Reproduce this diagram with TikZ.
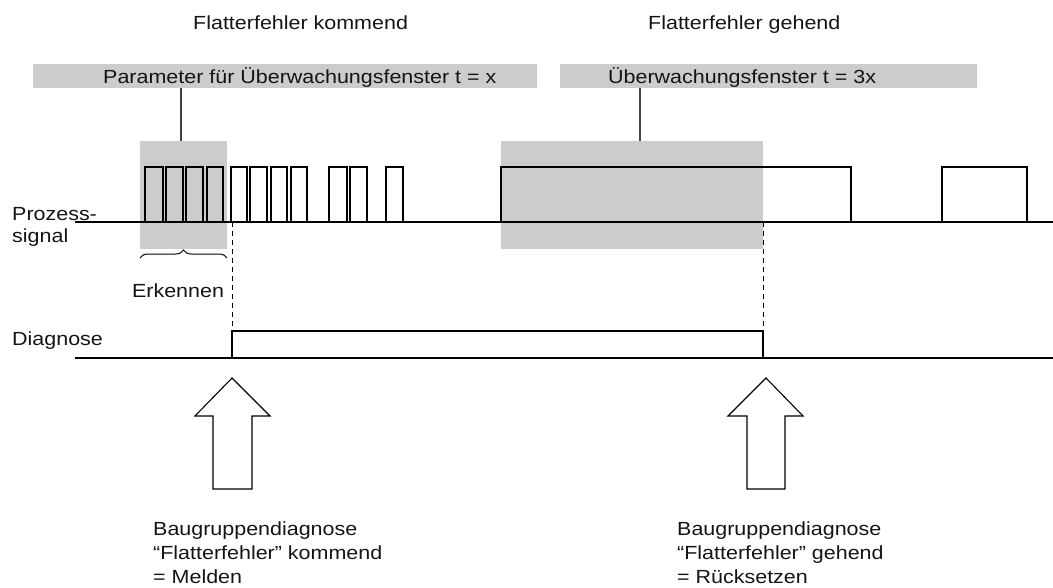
\documentclass[tikz,border=0pt]{standalone}
\usepackage{fontspec}
\setmainfont{Liberation Sans}[FakeStretch=1.13]
\usetikzlibrary{decorations.pathreplacing}
\definecolor{wingray}{RGB}{204,204,204}
\definecolor{txt}{RGB}{20,20,20}
\tikzset{
  lbl/.style={inner sep=0pt, anchor=base west, text=txt, font=\fontsize{19}{24}\selectfont},
  lblc/.style={lbl, anchor=base},
  multi/.style={lbl, align=left},
  winbox/.style={fill=wingray, draw=none},
  sig/.style={line width=1.8pt, line join=miter},
  leader/.style={line width=1.1pt, draw=black!75},
  dashv/.style={line width=0.9pt, dash pattern=on 5pt off 4pt},
  bigarrow/.style={line width=1.1pt, draw=black, fill=white, line join=miter},
  bracestyle/.style={line width=1pt, decorate, decoration={brace, amplitude=8pt}}
}
\begin{document}
\begin{tikzpicture}[x=1pt,y=-1pt]
\useasboundingbox (0,0) rectangle (1053,587);

% titles
\node[lbl] (t1) at (193,29) {Flatterfehler kommend};
\node[lbl] (t2) at (648,29) {Flatterfehler gehend};

% label boxes
\fill[winbox] (33,64) rectangle (537,88);
\fill[winbox] (560,64) rectangle (977,88);
\node[lbl] (p1) at (103,83) {Parameter für Überwachungsfenster t = x};
\node[lbl] (p2) at (608,83) {Überwachungsfenster t = 3x};

% monitoring windows
\fill[winbox] (140,141) rectangle (227,249);
\fill[winbox] (501,141) rectangle (763,249);

% leaders
\coordinate (l1a) at (181,88);
\coordinate (l1b) at (181,141);
\coordinate (l2a) at (640,88);
\coordinate (l2b) at (640,141);
\draw[leader] (l1a) -- (l1b);
\draw[leader] (l2a) -- (l2b);

% process signal: continuous baseline with pulses
\draw[sig] (75,222) -- (1053,222);
\foreach \a/\b in {145/163,166/183,186/203,207/223,231/247,250/267,271/287,291/307,329/347,350/367,386/403,501/851,942/1027}
  \draw[sig] (\a,222) -- (\a,167) -- (\b,167) -- (\b,222);

% diagnose signal
\coordinate (d1) at (232,331);
\coordinate (d2) at (763,331);
\coordinate (s1) at (232,222);
\coordinate (s2) at (763,222);
\draw[sig] (75,358) -- (1053,358);
\draw[sig] (232,358) -- (d1) -- (d2) -- (763,358);
\draw[dashv] (s1) -- (d1);
\draw[dashv] (s2) -- (d2);

% labels
\node[lbl] (ps1) at (12,220) {Prozess-};
\node[lbl] (ps2) at (12,242) {signal};
\node[lbl] (dg) at (12,345) {Diagnose};

% brace
\coordinate (b1) at (140,258);
\coordinate (b2) at (227,258);
\draw[bracestyle] (b1) -- (b2);
\node[lblc] (erk) at (178,297) {Erkennen};

% big arrows
\draw[bigarrow] (232,378) -- (270,416) -- (252,416) -- (252,489) -- (213,489) -- (213,416) -- (195,416) -- cycle;
\draw[bigarrow] (766,378) -- (803,416) -- (785,416) -- (785,489) -- (747,489) -- (747,416) -- (728,416) -- cycle;

% bottom texts (base anchor = last line baseline)
\node[multi] (m1) at (153,583) {Baugruppendiagnose\\“Flatterfehler” kommend\\= Melden};
\node[multi] (m2) at (677,583) {Baugruppendiagnose\\“Flatterfehler” gehend\\= Rücksetzen};
\end{tikzpicture}
\end{document}
